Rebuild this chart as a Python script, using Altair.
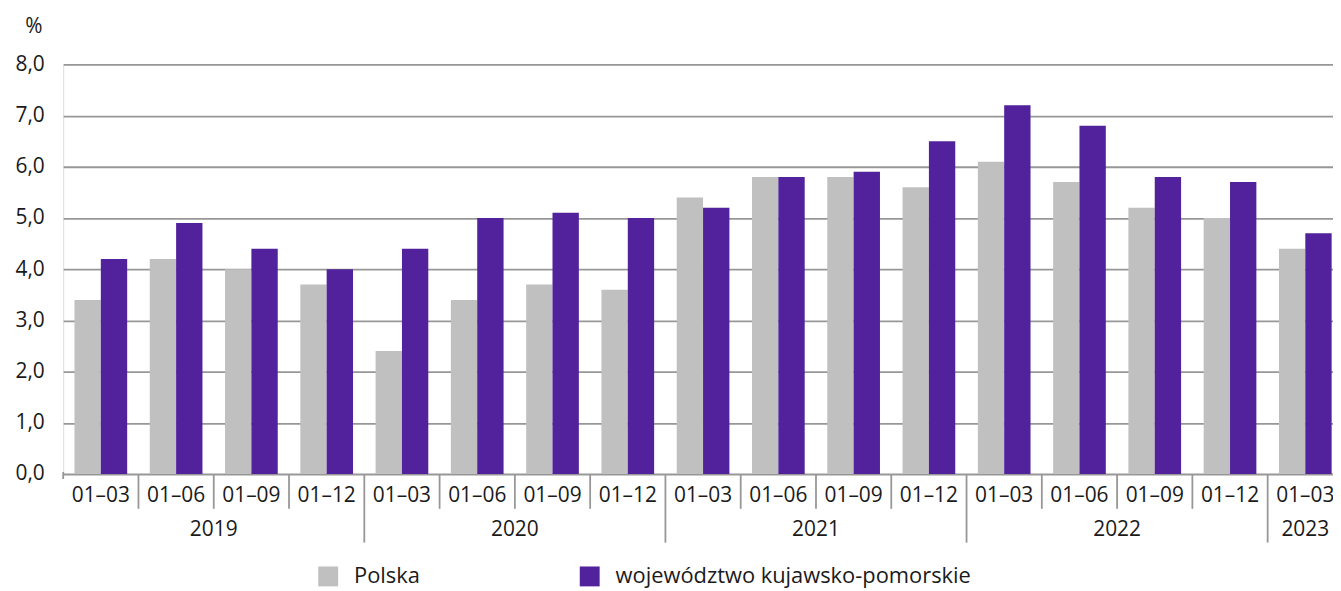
import altair as alt
import pandas as pd

# ---- data ----
quarter_labels = ["01–03", "01–06", "01–09", "01–12"] * 4 + ["01–03"]
years = ["2019"] * 4 + ["2020"] * 4 + ["2021"] * 4 + ["2022"] * 4 + ["2023"]
polska = [3.4, 4.2, 4.0, 3.7, 2.4, 3.4, 3.7, 3.6, 5.4, 5.8, 5.8, 5.6, 6.1, 5.7, 5.2, 5.0, 4.4]
kujawsko = [4.2, 4.9, 4.4, 4.0, 4.4, 5.0, 5.1, 5.0, 5.2, 5.8, 5.9, 6.5, 7.2, 6.8, 5.8, 5.7, 4.7]
series_names = ["Polska", "województwo kujawsko-pomorskie"]
series_colors = ["#c0c0c0", "#51229b"]
y_ticks = [0, 1, 2, 3, 4, 5, 6, 7, 8]

FONT = "Open Sans"
TXT = "#1a1a1a"
GRID = "#979797"
W = 1277          # visible plot width (clipped at window edge)
RANGE = 1287      # full width of the 17 groups
H = 412

n = len(quarter_labels)
bars = pd.DataFrame({
    "idx": list(range(n)) * 2,
    "series": [series_names[0]] * n + [series_names[1]] * n,
    "value": polska + kujawsko,
})

qdf = pd.DataFrame({"idx": list(range(n)), "label": quarter_labels, "year": years})
qdf["pos"] = qdf["idx"] + 0.5
ydf = qdf.groupby("year", as_index=False)["pos"].mean()

sep_rows = []
for b in range(n):
    if b == 0:
        kind = "edge"
    elif years[b] != years[b - 1]:
        kind = "year"
    else:
        kind = "quarter"
    sep_rows.append({"pos": b, "kind": kind})
sdf = pd.DataFrame(sep_rows)

xq = alt.X("pos:Q", axis=None,
           scale=alt.Scale(domain=[0, n], range=[0, RANGE], nice=False, zero=False))

bar = alt.Chart(bars).mark_bar(clip=True).encode(
    x=alt.X("idx:O", axis=None,
            scale=alt.Scale(range=[0, RANGE], paddingInner=0.3, paddingOuter=0.15, round=False)),
    xOffset=alt.XOffset("series:N", sort=series_names,
                        scale=alt.Scale(paddingInner=0, paddingOuter=0)),
    y=alt.Y("value:Q",
            scale=alt.Scale(domain=[0, 8], nice=False, zero=True),
            axis=alt.Axis(values=y_ticks, ticks=False, domain=False, grid=True,
                          gridColor=GRID, gridWidth=1.8,
                          labelExpr="replace(format(datum.value, '.1f'), '.', ',')",
                          labelFont=FONT, labelFontSize=21, labelColor=TXT, labelPadding=19,
                          title="%", titleAngle=0, titleX=-30, titleY=-38,
                          titleAlign="center", titleBaseline="middle",
                          titleFont=FONT, titleFontSize=21, titleFontWeight="normal",
                          titleColor=TXT)),
    color=alt.Color("series:N",
                    scale=alt.Scale(domain=series_names, range=series_colors),
                    legend=alt.Legend(title=None, orient="none", legendX=255.5, legendY=504,
                                      direction="horizontal", symbolType="square",
                                      symbolSize=400, symbolStrokeWidth=0, symbolOpacity=1,
                                      labelFont=FONT, labelFontSize=22, labelColor=TXT,
                                      labelLimit=1000,
                                      labelOffset=15, columnPadding=159, padding=0)),
)

qtext = alt.Chart(qdf).mark_text(font=FONT, fontSize=21, color=TXT, baseline="middle").encode(
    x=xq, y=alt.value(H + 22), text="label:N")

ytext = alt.Chart(ydf).mark_text(font=FONT, fontSize=21, color=TXT, baseline="middle").encode(
    x=xq, y=alt.value(H + 56), text="year:N")

rule_q = alt.Chart(sdf).transform_filter("datum.kind == 'quarter'").mark_rule(
    color=GRID, strokeWidth=1.8).encode(x=xq, y=alt.value(H), y2=alt.value(H + 35))
rule_y = alt.Chart(sdf).transform_filter("datum.kind == 'year'").mark_rule(
    color=GRID, strokeWidth=1.8).encode(x=xq, y=alt.value(H), y2=alt.value(H + 69))
rule_e = alt.Chart(sdf).transform_filter("datum.kind == 'edge'").mark_rule(
    color=GRID, strokeWidth=1.8).encode(x=xq, y=alt.value(H - 2), y2=alt.value(H + 5))

chart = alt.layer(bar, rule_q, rule_y, rule_e, qtext, ytext).resolve_scale(
    x="independent"
).properties(
    width=W, height=H,
    autosize=alt.AutoSizeParams(type="none"),
    padding={"left": 55.5, "top": 55, "right": 0, "bottom": 115},
).configure_view(stroke=None).configure(font=FONT)

chart.save("out.html", embed_options={"renderer": "svg", "actions": False})
